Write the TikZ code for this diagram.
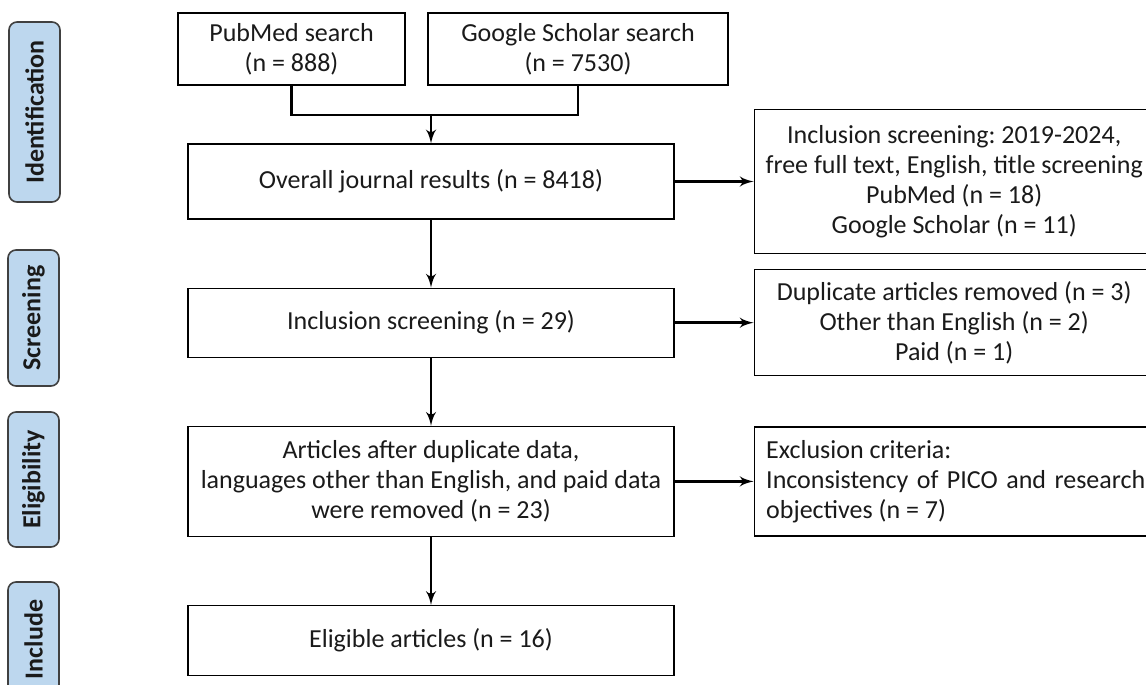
\documentclass[tikz,border=0pt]{standalone}
\usepackage{fontspec}
\setmainfont{Carlito}
\usepackage[usenames,dvipsnames,svgnames,table]{xcolor}
\usepackage{tikz}
\usetikzlibrary{arrows,positioning}
\definecolor{phaseblue}{RGB}{189,215,238}
\definecolor{phaseedge}{RGB}{64,64,64}
\definecolor{inktext}{RGB}{26,26,26}
\frenchspacing

\begin{document}
\begin{tikzpicture}[x=0.5pt, y=-0.5pt, ->, >=latex', line width=1.4pt, node distance=34pt,
	box/.style={draw, line width=0.6pt, inner sep=0pt, align=center, text=inktext, font=\fontsize{13}{15}\selectfont},
	phase/.style={draw=phaseedge, fill=phaseblue, line width=0.8pt, rounded corners=4pt, rotate=90, minimum height=25.5pt, inner sep=0pt, text=inktext, font=\fontsize{13}{15}\selectfont\bfseries}]
				\clip (0,0) rectangle (1146,685);
				% phases on the left
				\node[phase, minimum width=90pt]   (id) at (34.5,112)   {Identification};
				\node[phase, minimum width=68pt]   (sc) at (33.5,318)   {Screening};
				\node[phase, minimum width=67.5pt] (el) at (33.5,479.5) {Eligibility};
				\node[phase, minimum width=57.5pt] (in) at (33.5,639.5) {Include};

				% main column
				\node[box, minimum width=113.5pt, minimum height=36pt] (pm) at (291.5,49) {PubMed search\\(n = 888)};
				\node[box, minimum width=150pt, minimum height=36pt]   (gs) at (578,49)   {Google Scholar search\\(n = 7530)};
				\node[box, minimum width=243pt, minimum height=37.5pt] (ov) at (431,181.5) {Overall journal results (n = 8418)};
				\node[box, minimum width=243pt, minimum height=34.5pt] (is) [below=of ov] {Inclusion screening (n = 29)};
				\node[box, minimum width=243pt, minimum height=55pt]   (ar) [below=of is] {Articles after duplicate data,\\languages other than English, and paid data\\were removed (n = 23)};
				\node[box, minimum width=243pt, minimum height=35pt]   (eg) [below=of ar] {Eligible articles (n = 16)};

				% removed records on the right
				\node[box, minimum width=200pt, minimum height=72pt] (r1) [right=39.5pt of ov] {Inclusion screening: 2019-2024,\\free full text, English, title screening\\PubMed (n = 18)\\Google Scholar (n = 11)};
				\node[box, minimum width=200pt, minimum height=53pt] (r2) [right=39.5pt of is] {Duplicate articles removed (n = 3)\\Other than English (n = 2)\\Paid (n = 1)};
				\node[box, minimum height=54.5pt, text width=189.5pt, inner xsep=6pt, align=justify] (r3) [right=39.5pt of ar] {Exclusion criteria:\\Inconsistency of PICO and research objectives (n = 7)};

				\coordinate (mid) at (431,115);
				\draw[-] (pm) |- (mid) -| (gs);

				\path	(mid) edge (ov)
						(ov) edge (is)
						(is) edge (ar)
						(ar) edge (eg)
						(ov) edge (r1)
						(is) edge (r2)
						(ar) edge (r3);
\end{tikzpicture}
\end{document}
